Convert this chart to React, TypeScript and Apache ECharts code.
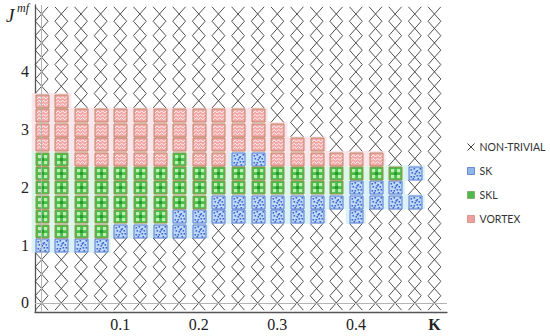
import React, { useEffect, useRef } from "react";
import * as echarts from "echarts";

// Grid of computed (K, J^mf) points
const K_VALUES = [0, 0.025, 0.05, 0.075, 0.1, 0.125, 0.15, 0.175, 0.2, 0.225, 0.25, 0.275, 0.3, 0.325, 0.35, 0.375, 0.4, 0.425, 0.45, 0.475, 0.5];
const J_VALUES = [0, 0.25, 0.5, 0.75, 1, 1.25, 1.5, 1.75, 2, 2.25, 2.5, 2.75, 3, 3.25, 3.5, 3.75, 4, 4.25, 4.5, 4.75, 5];

// J values of each phase, one list per K column (same order as K_VALUES)
const SK_J = [
  [1], [1], [1], [1], [1.25], [1.25], [1.25], [1.25, 1.5], [1.25, 1.5], [1.5, 1.75],
  [1.5, 1.75, 2.5], [1.5, 1.75, 2.5], [1.5, 1.75], [1.5, 1.75], [1.5, 1.75], [1.75],
  [1.5, 1.75, 2], [1.75, 2], [1.75, 2], [1.75, 2.25], [],
];
const SKL_J = [
  [1.25, 1.5, 1.75, 2, 2.25, 2.5], [1.25, 1.5, 1.75, 2, 2.25, 2.5],
  [1.25, 1.5, 1.75, 2, 2.25], [1.25, 1.5, 1.75, 2, 2.25],
  [1.5, 1.75, 2, 2.25], [1.5, 1.75, 2, 2.25], [1.5, 1.75, 2, 2.25],
  [1.75, 2, 2.25, 2.5], [1.75, 2, 2.25], [2, 2.25], [2, 2.25], [2, 2.25], [2, 2.25],
  [2, 2.25], [2, 2.25], [2, 2.25], [2.25], [2.25], [2.25], [], [],
];
const VORTEX_J = [
  [2.75, 3, 3.25, 3.5], [2.75, 3, 3.25, 3.5],
  [2.5, 2.75, 3, 3.25], [2.5, 2.75, 3, 3.25], [2.5, 2.75, 3, 3.25], [2.5, 2.75, 3, 3.25], [2.5, 2.75, 3, 3.25],
  [2.75, 3, 3.25], [2.5, 2.75, 3, 3.25], [2.5, 2.75, 3, 3.25], [2.75, 3, 3.25], [2.75, 3, 3.25],
  [2.5, 2.75, 3], [2.5, 2.75], [2.5, 2.75], [2.5], [2.5], [2.5], [], [], [],
];

const X_TICKS = [0.1, 0.2, 0.3, 0.4, 0.5];
const Y_TICKS = [0, 1, 2, 3, 4];

function toPoints(cols: number[][]): number[][] {
  const out: number[][] = [];
  cols.forEach((js, i) => js.forEach((j) => out.push([K_VALUES[i], j])));
  return out;
}

const SK_PTS = toPoints(SK_J);
const SKL_PTS = toPoints(SKL_J);
const VORTEX_PTS = toPoints(VORTEX_J);

function key(k: number, j: number) {
  return k.toFixed(3) + "_" + j.toFixed(2);
}
const occupied = new Set<string>();
[...SK_PTS, ...SKL_PTS, ...VORTEX_PTS].forEach(([k, j]) => occupied.add(key(k, j)));
const CROSS_PTS: number[][] = [];
K_VALUES.forEach((k) => J_VALUES.forEach((j) => { if (!occupied.has(key(k, j))) CROSS_PTS.push([k, j]); }));

const HALO_PTS = [
  ...SK_PTS.map((p) => [p[0], p[1], 0]),
  ...SKL_PTS.map((p) => [p[0], p[1], 1]),
  ...VORTEX_PTS.map((p) => [p[0], p[1], 2]),
];

const HALO_COLORS = ["#dcf2fb", "#d9f8e8", "#fde5ec"];
const SQ = 13;

function squareRenderer(kind: "SK" | "SKL" | "VORTEX") {
  return (params: any, api: any) => {
    const c = api.coord([api.value(0), api.value(1)]);
    const cx = Math.round(c[0]) + 0.5;
    const cy = Math.round(c[1]) + 0.5;
    const h = SQ / 2;
    const children: any[] = [];
    if (kind === "VORTEX") {
      children.push({ type: "rect", shape: { x: cx - h, y: cy - h, width: SQ, height: SQ }, style: { fill: "#f3a6a6", stroke: "#bb8a6a", lineWidth: 1 } });
      [-3.6, -0.2, 3.2].forEach((dy) => {
        const pts: number[][] = [];
        for (let i = 0; i <= 5; i++) pts.push([cx - 5.5 + i * 2.2, cy + dy + (i % 2 === 0 ? 1.1 : -1.1)]);
        children.push({ type: "polyline", shape: { points: pts }, style: { stroke: "#fff5f5", lineWidth: 1, fill: null } });
      });
    } else if (kind === "SKL") {
      children.push({ type: "rect", shape: { x: cx - h, y: cy - h, width: SQ, height: SQ }, style: { fill: "#47bd4a", stroke: "#a08e52", lineWidth: 1 } });
      [[-4.5, -4.5], [1.5, -4.5], [-4.5, 1.5], [1.5, 1.5], [-1.5, -1.5]].forEach(([dx, dy], i) => {
        children.push({ type: "rect", shape: { x: cx + dx, y: cy + dy, width: i === 4 ? 3 : 3.2, height: i === 4 ? 3 : 3.2 }, style: { fill: i === 4 ? "#2a9a30" : "#bdefb0" } });
      });
    } else {
      children.push({ type: "rect", shape: { x: cx - h, y: cy - h, width: SQ, height: SQ }, style: { fill: "#c0d9f7", stroke: "#5a78cc", lineWidth: 1 } });
      [[-5, -4], [-2, -5], [1, -3], [4, -5], [-4, -1], [-1, 0], [3, -1], [-5, 3], [-2, 3], [1, 2], [4, 2], [-3, 5], [2, 5], [0, -2]].forEach(([dx, dy]) => {
        children.push({ type: "rect", shape: { x: cx + dx, y: cy + dy - 0.5, width: 1.6, height: 1.6 }, style: { fill: "#3b66cf" } });
      });
    }
    return { type: "group", children };
  };
}

export default function App() {
  const ref = useRef<HTMLDivElement>(null);
  useEffect(() => {
    if (!ref.current) return;
    const chart = echarts.init(ref.current, null, { renderer: "svg" });
    const option: any = {
      animation: false,
      backgroundColor: "#ffffff",
      grid: { left: 35, top: 5, width: 412, height: 307, containLabel: false },
      xAxis: {
        type: "value",
        min: -0.0085,
        max: 0.516,
        splitLine: { show: false },
        axisTick: { show: false },
        axisLine: { show: true, onZero: false, lineStyle: { color: "#555", width: 1.3 } },
        axisLabel: {
          customValues: X_TICKS,
          margin: 4,
          fontFamily: "Liberation Serif",
          fontSize: 16,
          color: "#222",
          formatter: (v: number) => (Math.abs(v - 0.5) < 1e-6 ? "{k|K}" : String(Math.round(v * 10) / 10)),
          rich: { k: { fontFamily: "Liberation Serif", fontWeight: "bold", fontSize: 16, color: "#222" } },
        },
      },
      yAxis: {
        type: "value",
        min: -0.156,
        max: 5.156,
        splitLine: { show: false },
        axisTick: { show: false },
        axisLine: { show: true, onZero: false, lineStyle: { color: "#555", width: 1.3 } },
        axisLabel: {
          customValues: Y_TICKS,
          margin: 6,
          fontFamily: "Liberation Serif",
          fontSize: 16,
          color: "#222",
          formatter: (v: number) => String(v),
        },
      },
      legend: {
        orient: "vertical",
        left: 460,
        top: 135,
        padding: 5,
        itemWidth: 7,
        itemHeight: 7,
        itemGap: 10,
        selectedMode: false,
        textStyle: { fontFamily: "Lato", fontSize: 10.5, color: "#333", lineHeight: 14 },
        data: [
          { name: "NON-TRIVIAL", icon: "path://M0,0L10,10M10,0L0,10", itemStyle: { color: "none", borderColor: "#444", borderWidth: 1 } },
          { name: "SK", icon: "rect", itemStyle: { color: "#8fb6ec", borderColor: "#5574c8", borderWidth: 0.8 } },
          { name: "SKL", icon: "rect", itemStyle: { color: "#4cbb4c", borderColor: "#7fa060", borderWidth: 0.8 } },
          { name: "VORTEX", icon: "rect", itemStyle: { color: "#ee9e9e", borderColor: "#c98b7a", borderWidth: 0.8 } },
        ],
      },
      graphic: [
        { type: "text", left: 6, top: 6, style: { text: "J", fontFamily: "Liberation Serif", fontStyle: "italic", fontSize: 19, fill: "#222" } },
        { type: "text", left: 17, top: 2, style: { text: "mf", fontFamily: "Liberation Serif", fontStyle: "italic", fontSize: 12, fill: "#222" } },
      ],
      series: [
        {
          name: "zero-lines",
          type: "line",
          data: [],
          silent: true,
          markLine: {
            silent: true,
            symbol: "none",
            label: { show: false },
            lineStyle: { color: "#b4b4b4", width: 1, type: "solid" },
            data: [{ xAxis: 0 }, { yAxis: 0 }],
          },
        },
        {
          name: "halo",
          type: "custom",
          z: 1,
          silent: true,
          data: HALO_PTS,
          renderItem: (params: any, api: any) => {
            const c = api.coord([api.value(0), api.value(1)]);
            return { type: "rect", shape: { x: c[0] - 10, y: c[1] - 7.6, width: 20, height: 15.2 }, style: { fill: HALO_COLORS[api.value(2)] } };
          },
        },
        {
          name: "NON-TRIVIAL",
          type: "custom",
          z: 2,
          data: CROSS_PTS,
          itemStyle: { color: "#444" },
          renderItem: (params: any, api: any) => {
            const c = api.coord([api.value(0), api.value(1)]);
            const hw = 6.4, hh = 7.2;
            const st = { stroke: "#3c3c3c", lineWidth: 0.9 };
            return {
              type: "group",
              children: [
                { type: "line", shape: { x1: c[0] - hw, y1: c[1] - hh, x2: c[0] + hw, y2: c[1] + hh }, style: st },
                { type: "line", shape: { x1: c[0] + hw, y1: c[1] - hh, x2: c[0] - hw, y2: c[1] + hh }, style: st },
              ],
            };
          },
        },
        { name: "SK", type: "custom", z: 3, data: SK_PTS, itemStyle: { color: "#8fb6ec" }, renderItem: squareRenderer("SK") },
        { name: "SKL", type: "custom", z: 3, data: SKL_PTS, itemStyle: { color: "#4cbb4c" }, renderItem: squareRenderer("SKL") },
        { name: "VORTEX", type: "custom", z: 3, data: VORTEX_PTS, itemStyle: { color: "#ee9e9e" }, renderItem: squareRenderer("VORTEX") },
      ],
    };
    chart.setOption(option);
    return () => chart.dispose();
  }, []);
  return <div ref={ref} style={{ position: "fixed", left: 0, top: 0, width: 550, height: 336, background: "#fff" }} />;
}
